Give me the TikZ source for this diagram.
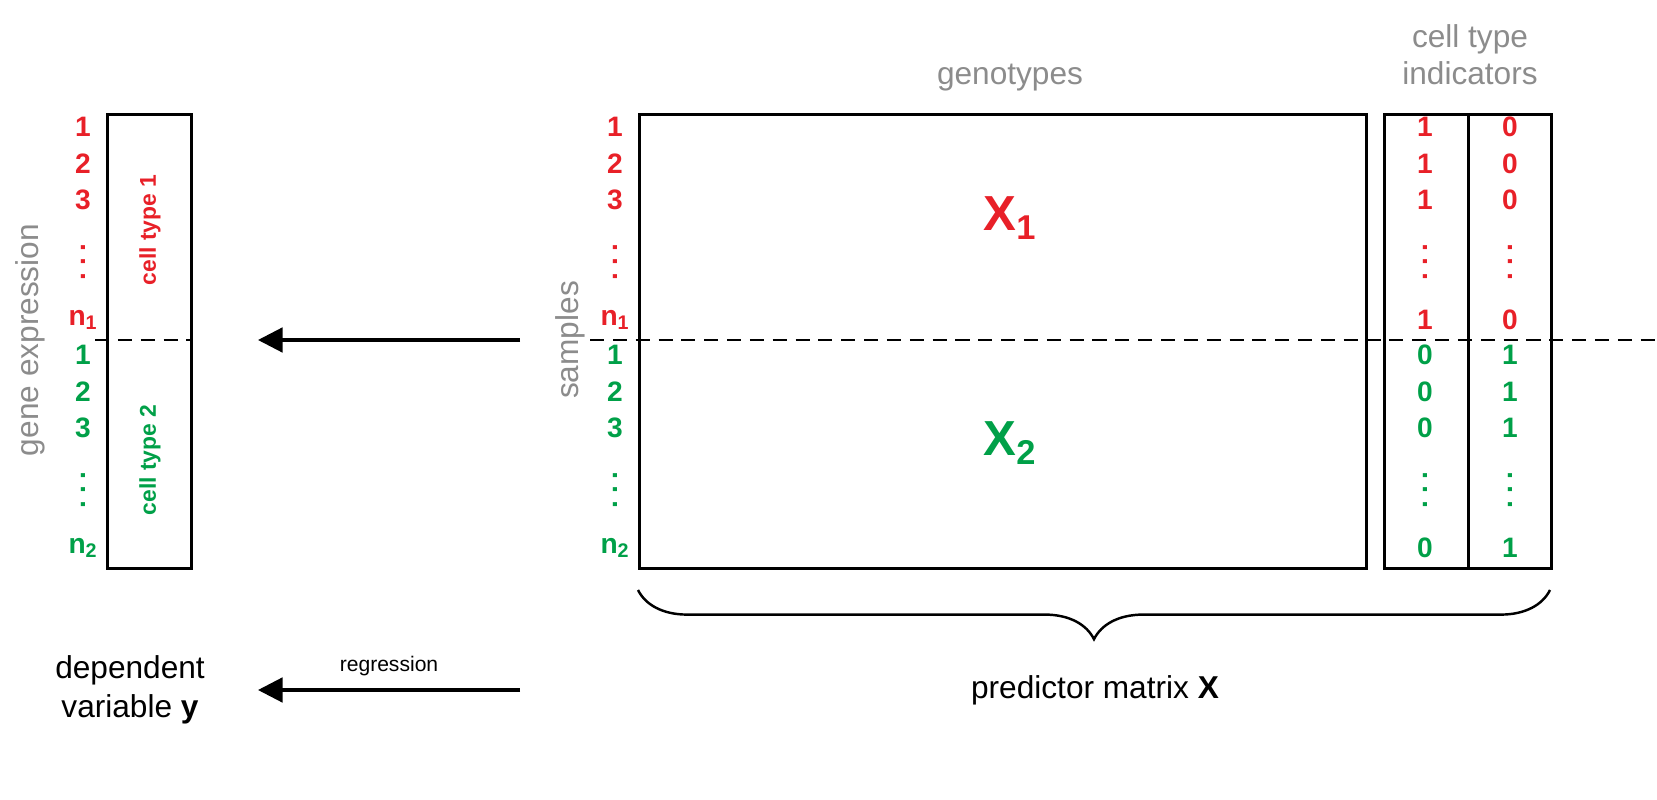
\documentclass[tikz,border=0pt]{standalone}
\usepackage{fontspec}
\setmainfont{Liberation Sans}
\usetikzlibrary{positioning,decorations.pathreplacing,arrows.meta}
\definecolor{cred}{RGB}{232,32,40}
\definecolor{cgreen}{RGB}{0,160,72}
\definecolor{cgray}{RGB}{140,140,140}
\newcommand\vdts{\rotatebox{90}{.\kern4pt.\kern4pt.}}
\begin{document}
\begin{tikzpicture}[
        x=0.02cm, y=-0.02cm,
        box/.style={draw, line width=1.6pt},
        split/.style={line width=1.4pt, dash pattern=on 8pt off 5pt},
        num/.style={font=\fontsize{16}{16}\selectfont\bfseries, inner sep=0pt},
        lbl/.style={text=cgray, font=\fontsize{18}{20}\selectfont, align=center},
        cellname/.style={font=\fontsize{13}{13}\selectfont\bfseries, rotate=90},
        bigarrow/.style={line width=1.8pt, -{Triangle[length=14pt,width=14pt]}},
    ]
    \useasboundingbox (0,0) rectangle (1657,800);

    % vector y
    \node[box, minimum width=1.68cm, minimum height=9.08cm, anchor=north west] (y) at (106,113) {};
    \draw[split] (95,340) -- (190,340);
    \node[cellname, text=cred] (ct1) at (150,230) {cell type 1};
    \node[cellname, text=cgreen] (ct2) at (150,460) {cell type 2};
    \node[lbl, rotate=90] (gexp) at (30,340) {gene expression};

    % matrix X
    \node[box, minimum width=14.54cm, minimum height=9.08cm, anchor=north west] (X) at (638,113) {};
    \node[box, minimum width=1.68cm, minimum height=9.08cm, anchor=north west] (c1) at (1383,113) {};
    \node[box, minimum width=1.66cm, minimum height=9.08cm, anchor=north west] (c2) at (1467,113) {};
    \draw[split] (590,340) -- (1657,340);
    \node[lbl] (geno) at (1010,78) {genotypes};
    \node[lbl, font=\fontsize{18}{21}\selectfont] (ind) at (1470,55) {cell type\\indicators};
    \node[lbl, rotate=90] (samp) at (570,340) {samples};
    \node[text=cred, font=\fontsize{28}{28}\selectfont\bfseries] (X1) at (1010,218) {X\textsubscript{1}};
    \node[text=cgreen, font=\fontsize{28}{28}\selectfont\bfseries] (X2) at (1010,443) {X\textsubscript{2}};

    % row labels
    \foreach \xx in {83,615} {
        \foreach \yy/\t in {127/1,164/2,200/3,320/n\textsubscript{1}}
            \node[num, text=cred] at (\xx,\yy) {\t};
        \foreach \yy/\t in {355/1,392/2,428/3,548/n\textsubscript{2}}
            \node[num, text=cgreen] at (\xx,\yy) {\t};
        \node[num, text=cred] at (\xx,262) {\vdts};
        \node[num, text=cgreen] at (\xx,490) {\vdts};
    }
    % indicator values
    \foreach \xx/\a/\b in {1425/1/0,1510/0/1} {
        \foreach \yy in {127,164,200,320}
            \node[num, text=cred] at (\xx,\yy) {\a};
        \foreach \yy in {355,392,428,548}
            \node[num, text=cgreen] at (\xx,\yy) {\b};
        \node[num, text=cred] at (\xx,262) {\vdts};
        \node[num, text=cgreen] at (\xx,490) {\vdts};
    }

    % brace and names
    \coordinate (bl) at (638,590);
    \coordinate (br) at (1550,590);
    \draw[line width=1.4pt, decorate, decoration={brace, mirror, amplitude=28pt}] (bl) -- (br);
    \node[font=\fontsize{18}{20}\selectfont] (pred) at (1095,690) {predictor matrix \textbf{X}};
    \node[font=\fontsize{18}{22}\selectfont, align=center] (dep) at (130,690) {dependent\\variable \textbf{y}};

    % arrows
    \coordinate (a1) at (520,340);
    \coordinate (a2) at (258,340);
    \coordinate (b1) at (520,690);
    \coordinate (b2) at (258,690);
    \draw[bigarrow] (a1) -- (a2);
    \draw[bigarrow] (b1) -- (b2) node[midway, above=4pt, font=\fontsize{12}{12}\selectfont] {regression};
\end{tikzpicture}
\end{document}
